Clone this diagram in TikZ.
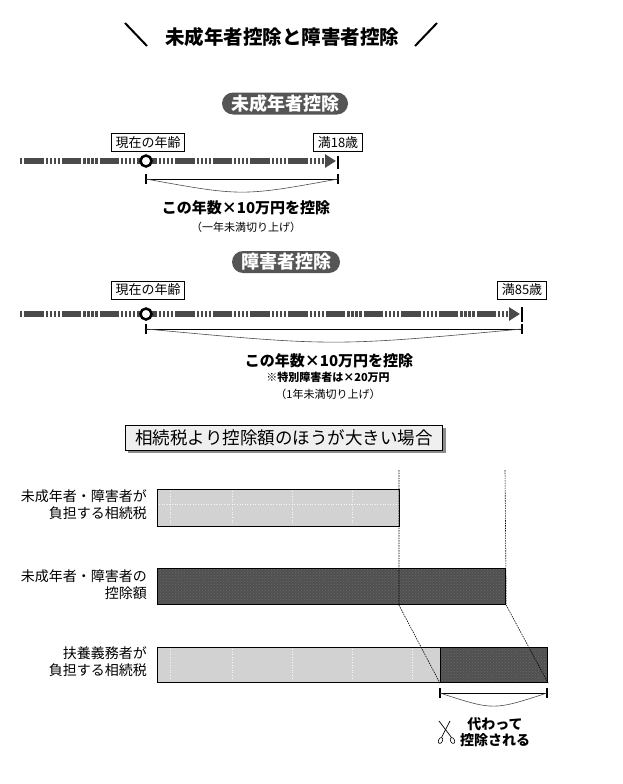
\documentclass[tikz,border=0pt]{standalone}
\usepackage{fontspec}
\setmainfont{Noto Sans CJK JP}
\usepackage{tikz}
\usetikzlibrary{arrows.meta, positioning, calc, shadows, patterns}
\usepackage{xcolor}
\definecolor{linegray}{HTML}{4A4A4A}
\definecolor{pillgray}{HTML}{555555}
\definecolor{lightbar}{HTML}{D2D2D2}
\definecolor{darkbar}{HTML}{505050}
\definecolor{dotgray}{HTML}{6A6A6A}
\definecolor{headfill}{HTML}{EFEFEF}

\begin{document}
\begin{tikzpicture}[x=1pt, y=-1pt,
  every node/.style={inner sep=0pt},
  pill/.style={fill=pillgray, text=white, rounded corners=11pt, minimum height=22pt, inner xsep=9pt, font=\fontsize{18}{20}\selectfont\bfseries},
  agebox/.style={draw, line width=0.8pt, fill=white, minimum height=18pt, inner xsep=4pt, font=\fontsize{13}{15}\selectfont},
  tline/.style={line width=5.5pt, draw=linegray, dash pattern=on 19.5pt off 2pt on 2.2pt off 1.8pt on 2.2pt off 1.8pt on 2.2pt off 1.8pt on 2.2pt off 2pt, dash phase=33.5pt, -{Triangle[length=11pt,width=13pt]}, shorten >=2pt},
  nowdot/.style={circle, draw, line width=2.5pt, fill=white, minimum size=11pt},
  endtick/.style={line width=2.5pt},
  spanline/.style={line width=0.8pt},
  sagarc/.style={line width=0.6pt, draw=black!70},
  mainnote/.style={font=\fontsize{15}{17}\selectfont\bfseries},
  subnote/.style={font=\fontsize{11}{13}\selectfont},
  headbox/.style={draw, line width=0.9pt, fill=headfill, minimum height=25pt, inner xsep=10pt, font=\fontsize{17.5}{19}\selectfont, drop shadow={shadow xshift=3pt, shadow yshift=-3pt, fill=black!45, opacity=1}},
  lightbox/.style={draw, line width=1.2pt, fill=lightbar, anchor=north west},
  darkbox/.style={draw, line width=1.2pt, preaction={fill=darkbar}, pattern=crosshatch dots, pattern color=dotgray, anchor=north west},
  gridline/.style={white, line width=0.6pt, dotted, opacity=0.8},
  guide/.style={line width=0.6pt, dash pattern=on 1.5pt off 1pt},
  barlabel/.style={anchor=east, align=right, font=\fontsize{14}{17}\selectfont}
]
\useasboundingbox (0,0) rectangle (622,784);

% Title
\node[font=\fontsize{19.5}{21}\selectfont\bfseries] (title) at (282,37) {未成年者控除と障害者控除};
\draw[line width=2pt] (125,23) -- (147,46);
\draw[line width=2pt] (415,46) -- (437,23);

% Minor deduction
\node[pill] (minor) at (285,103.5) {未成年者控除};
\coordinate (start1) at (20,161);
\coordinate (end1) at (338,161);
\draw[tline] (start1) -- (end1);
\draw[endtick] (338,155.5) -- (338,169);
\node[nowdot] (now1) at (146,161) {};
\node[agebox] (age1) at (148,142.5) {現在の年齢};
\node[agebox] (limit1) at (338,142.5) {満18歳};

\coordinate (s1l) at (146,179);
\coordinate (s1r) at (338,179);
\draw[endtick] (146,174) -- (146,184);
\draw[endtick] (338,174) -- (338,184);
\draw[spanline] (s1l) -- (s1r);
\draw[sagarc] (s1l) .. controls ($(s1l)!0.5!(s1r)+(0,17.5)$) .. (s1r);
\node[mainnote] (calc1) at (246,208) {この年数×10万円を控除};
\node[subnote] (round1) at (246,227) {（一年未満切り上げ）};

% Disability deduction
\node[pill] (disab) at (286,262) {障害者控除};
\coordinate (start2) at (20,314);
\coordinate (end2) at (522,314);
\draw[tline] (start2) -- (end2);
\draw[endtick] (522,307) -- (522,322);
\node[nowdot] (now2) at (146,314) {};
\node[agebox] (age2) at (148,290) {現在の年齢};
\node[agebox] (limit2) at (522,290) {満85歳};

\coordinate (s2l) at (146,329);
\coordinate (s2r) at (522,329);
\draw[endtick] (146,324) -- (146,334);
\draw[endtick] (522,324) -- (522,334);
\draw[spanline] (s2l) -- (s2r);
\draw[sagarc] (s2l) .. controls ($(s2l)!0.5!(s2r)+(0,17.5)$) .. (s2r);
\node[mainnote] (calc2) at (329,361) {この年数×10万円を控除};
\node[subnote, font=\fontsize{11}{13}\selectfont\bfseries] (special) at (328,377) {※特別障害者は×20万円};
\node[subnote] (round2) at (328,394) {（1年未満切り上げ）};

% When the deduction exceeds the tax
\node[headbox] (case) at (284,437.5) {相続税より控除額のほうが大きい場合};

\node[lightbox, minimum width=242pt, minimum height=37pt] (heir) at (157,489) {};
\foreach \x in {170,232,292,352} {
    \draw[gridline] (\x,491) -- (\x,524);
}
\draw[gridline] (159,504) -- (397,504);
\node[barlabel] at (147,505) {未成年者・障害者が\\負担する相続税};

\node[darkbox, minimum width=348pt, minimum height=36pt] (deduct) at (157,568) {};
\node[barlabel] at (147,584.5) {未成年者・障害者の\\控除額};

\node[lightbox, minimum width=283pt, minimum height=35pt] (payer) at (157,647) {};
\foreach \x in {170,232,292,352,412} {
    \draw[gridline] (\x,649) -- (\x,680);
}
\node[darkbox, minimum width=107pt, minimum height=35pt] (shift) at (440,647) {};
\node[barlabel] at (147,662) {扶養義務者が\\負担する相続税};

% Guides
\coordinate (g1) at (399,470);
\coordinate (g2) at (505,470);
\draw[guide] (g1) -- (g1 |- deduct.south) -- (shift.south west);
\draw[guide] (g2) -- (deduct.south east) -- (shift.south east);

% Shifted part
\coordinate (s3l) at (440,693);
\coordinate (s3r) at (547,693);
\draw[endtick, line width=2pt] (440,688) -- (440,698);
\draw[endtick, line width=2pt] (547,688) -- (547,698);
\draw[spanline] (s3l) -- (s3r);
\draw[sagarc] (s3l) .. controls ($(s3l)!0.5!(s3r)+(0,17.5)$) .. (s3r);

% Scissors
\draw[line width=0.7pt] (439,721) -- (451.5,737.5);
\draw[line width=0.7pt] (450,721) -- (441.5,737.5);
\draw[line width=0.6pt, rotate around={-25:(440.5,740.5)}] (440.5,740.5) ellipse [x radius=2pt, y radius=3.2pt];
\draw[line width=0.6pt, rotate around={25:(452.5,740.5)}] (452.5,740.5) ellipse [x radius=2pt, y radius=3.2pt];
\node[align=center, font=\fontsize{14}{16}\selectfont\bfseries] (instead) at (495,732) {代わって\\控除される};

\end{tikzpicture}
\end{document}
